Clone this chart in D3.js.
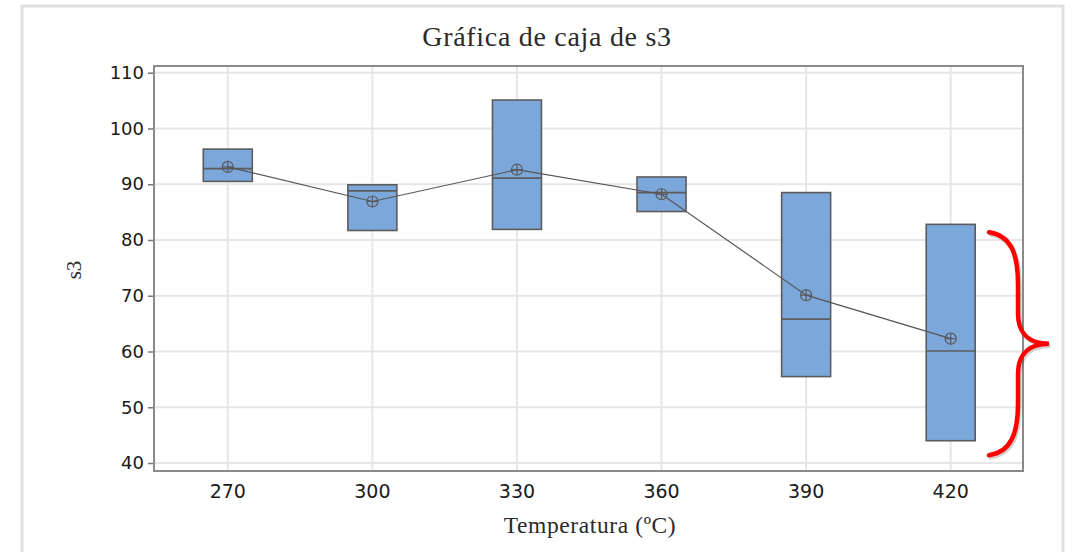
<!DOCTYPE html>
<html><head><meta charset="utf-8">
<script src="https://cdn.jsdelivr.net/npm/d3@7"></script>
<style>html,body{margin:0;padding:0;background:#fff;}svg{display:block;}</style>
</head><body>
<svg id="c" width="1081" height="552"></svg>
<script>
const categories = ["270","300","330","360","390","420"];
const q1Values     = [90.5, 81.7, 81.9, 85.1, 55.5, 44.0];
const medianValues = [92.8, 88.8, 91.1, 88.5, 65.8, 60.1];
const q3Values     = [96.3, 89.9, 105.1, 91.3, 88.5, 82.8];
const meanValues   = [93.1, 86.9, 92.6, 88.2, 70.1, 62.3];
const yTicks = [40,50,60,70,80,90,100,110];
const bracketRange = [41.4, 81.4];

const svg = d3.select("#c");
const L = 154, R = 1023, T = 66, B = 471;

// outer frame
svg.append("rect").attr("x",22).attr("y",6).attr("width",1041).attr("height",560)
  .attr("fill","none").attr("stroke","#e0e0e0").attr("stroke-width",3);

const x = d3.scaleBand().domain(categories).range([L+1.5, R]).paddingInner(0).paddingOuter(0);
const y = d3.scaleLinear().domain([38.57, 111.2]).range([B, T]);
const cx = c => x(c) + x.bandwidth()/2;

// grid
svg.append("g").selectAll("line").data(yTicks).join("line")
  .attr("x1",L).attr("x2",R).attr("y1",d=>y(d)).attr("y2",d=>y(d))
  .attr("stroke","#e6e6e6").attr("stroke-width",2);
svg.append("g").selectAll("line").data(categories).join("line")
  .attr("x1",cx).attr("x2",cx).attr("y1",T).attr("y2",B)
  .attr("stroke","#e6e6e6").attr("stroke-width",2);

// plot frame
svg.append("rect").attr("x",L).attr("y",T).attr("width",R-L).attr("height",B-T)
  .attr("fill","none").attr("stroke","#8a8a8a").attr("stroke-width",2);

// y axis
const yAxis = d3.axisLeft(y).tickValues(yTicks).tickSize(5).tickPadding(4);
const gy = svg.append("g").attr("transform",`translate(${L-1},0)`).call(yAxis);
gy.select(".domain").remove();
gy.selectAll(".tick line").attr("stroke","#777").attr("stroke-width",1.5);
gy.selectAll("text").attr("font-family","'DejaVu Sans', sans-serif").attr("font-size",18).attr("fill","#1a1a1a");

// x axis
const xAxis = d3.axisBottom(x).tickSize(0).tickPadding(14);
const gx = svg.append("g").attr("transform",`translate(0,${B})`).call(xAxis);
gx.select(".domain").remove();
gx.selectAll("text").attr("font-family","'DejaVu Sans', sans-serif").attr("font-size",19).attr("fill","#1a1a1a");

const data = categories.map((c,i)=>({c, q1:q1Values[i], med:medianValues[i], q3:q3Values[i], mean:meanValues[i]}));
const bw = 49;

// boxes
const boxes = svg.append("g");
boxes.selectAll("rect").data(data).join("rect")
  .attr("x",d=>cx(d.c)-bw/2).attr("width",bw)
  .attr("y",d=>y(d.q3)).attr("height",d=>y(d.q1)-y(d.q3))
  .attr("fill","#7ba7da").attr("stroke","#5c5c5c").attr("stroke-width",1.6);
boxes.selectAll("line").data(data).join("line")
  .attr("x1",d=>cx(d.c)-bw/2).attr("x2",d=>cx(d.c)+bw/2)
  .attr("y1",d=>y(d.med)).attr("y2",d=>y(d.med))
  .attr("stroke","#5c5c5c").attr("stroke-width",1.6);

// mean line
svg.append("path").datum(data)
  .attr("d", d3.line().x(d=>cx(d.c)).y(d=>y(d.mean)))
  .attr("fill","none").attr("stroke","#555").attr("stroke-width",1.2);

// mean symbols
const m = svg.append("g").selectAll("g").data(data).join("g")
  .attr("transform",d=>`translate(${cx(d.c)},${y(d.mean)})`);
m.append("circle").attr("r",5.5).attr("fill","none").attr("stroke","#5a5a5a").attr("stroke-width",1.2);
m.append("line").attr("x1",-5.5).attr("x2",5.5).attr("stroke","#5a5a5a").attr("stroke-width",1.2);
m.append("line").attr("y1",-5.5).attr("y2",5.5).attr("stroke","#5a5a5a").attr("stroke-width",1.2);

// titles
svg.append("text").attr("x",547).attr("y",46).attr("text-anchor","middle")
  .attr("font-family","'Liberation Serif', serif").attr("font-size",28).attr("fill","#2a2a2a")
  .attr("letter-spacing",0.7)
  .text("Gráfica de caja de s3");
svg.append("text").attr("x",590).attr("y",533).attr("text-anchor","middle")
  .attr("font-family","'Liberation Serif', serif").attr("font-size",23.5).attr("fill","#2a2a2a")
  .attr("letter-spacing",0.6)
  .text("Temperatura (ºC)");
svg.append("text").attr("transform","translate(81,270) rotate(-90)").attr("text-anchor","middle")
  .attr("font-family","'Liberation Serif', serif").attr("font-size",21).attr("fill","#2a2a2a")
  .text("s3");

// red brace annotation
const yt = y(bracketRange[1]), yb = y(bracketRange[0]), ym = (yt+yb)/2;
const bx0 = R - 34, bx1 = R - 5, bx2 = R + 26;
const brace = d3.path();
brace.moveTo(bx0, yt);
brace.bezierCurveTo(bx0+22, yt+3, bx1, yt+22, bx1, yt+52);
brace.lineTo(bx1, ym-30);
brace.bezierCurveTo(bx1, ym-8, bx1+14, ym, bx2, ym);
brace.bezierCurveTo(bx1+14, ym, bx1, ym+8, bx1, ym+30);
brace.lineTo(bx1, yb-52);
brace.bezierCurveTo(bx1, yb-22, bx0+22, yb-3, bx0, yb);
svg.append("path").attr("d",brace.toString()).attr("transform","translate(1.5,2)")
  .attr("fill","none").attr("stroke","rgba(0,0,0,0.18)").attr("stroke-width",4.5).attr("stroke-linecap","round");
svg.append("path").attr("d",brace.toString())
  .attr("fill","none").attr("stroke","#ff0000").attr("stroke-width",4.5).attr("stroke-linecap","round");
</script>
</body></html>
